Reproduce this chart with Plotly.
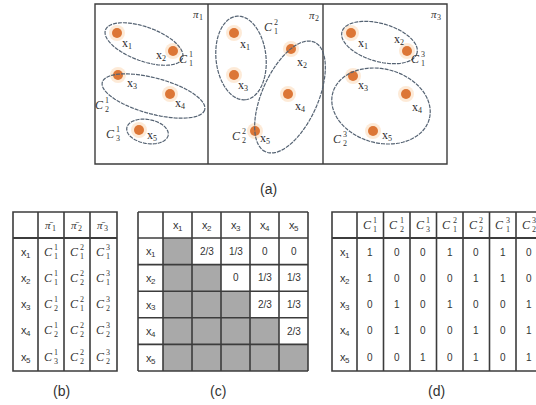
import numpy as np
import plotly.graph_objects as go

W, H = 536, 405

# ---- data -------------------------------------------------------------
objects = ["1", "2", "3", "4", "5"]            # x_1 ... x_5
partition_ids = [1, 2, 3]                       # pi_1 ... pi_3

# cluster label of each object in each partition
labels_pi1 = [1, 1, 2, 2, 3]
labels_pi2 = [1, 2, 1, 2, 2]
labels_pi3 = [1, 1, 2, 2, 2]

# object coordinates inside each partition panel
pi1_x = [117, 173, 118, 170, 139]
pi1_y = [33, 51, 75, 94, 130]
pi2_x = [234, 291, 234, 288, 255]
pi2_y = [33, 49, 75, 94, 131]
pi3_x = [351, 407, 353, 406, 373]
pi3_y = [33, 51, 76, 94, 131]

# co-association matrix (upper triangle shown)
coassoc = [
    ["", "2/3", "1/3", "0", "0"],
    ["", "", "0", "1/3", "1/3"],
    ["", "", "", "2/3", "1/3"],
    ["", "", "", "", "2/3"],
    ["", "", "", "", ""],
]

# binary membership table: columns are (cluster, partition)
member_cols = [(1, 1), (2, 1), (3, 1), (1, 2), (2, 2), (1, 3), (2, 3)]
membership = [
    [1, 0, 0, 1, 0, 1, 0],
    [1, 0, 0, 0, 1, 1, 0],
    [0, 1, 0, 1, 0, 0, 1],
    [0, 1, 0, 0, 1, 0, 1],
    [0, 0, 1, 0, 1, 0, 1],
]

# ---- styling / layout -------------------------------------------------
LINE = "#3c3c3c"
ELL = "#556373"
DOT = "#dc7636"
HALO = "rgba(248,190,130,0.32)"
SERIF = "Liberation Serif"
SANS = "Liberation Sans"

shapes = []
annotations = []


def text(x, y, s, size=11, family=SANS, color="#333", xanchor="center", yanchor="middle"):
    annotations.append(dict(x=x, y=y, xref="x", yref="y", text=s, showarrow=False,
                            font=dict(family=family, size=int(round(size)), color=color),
                            xanchor=xanchor, yanchor=yanchor))


def sub_label(x, y, base, sub, size=11, family=SANS, color="#333"):
    """Symbol with a subscript index, centred on (x, y)."""
    text(x - size * 0.17, y, base, size=size, family=family, color=color)
    text(x + size * 0.08 - 2, y + size * 0.30, str(sub), size=max(8, size * 0.68),
         family=family, color=color, xanchor="left")


def line(x0, y0, x1, y1, width=1.5, color=LINE):
    shapes.append(dict(type="line", x0=x0, y0=y0, x1=x1, y1=y1, xref="x", yref="y",
                       line=dict(color=color, width=width)))


def rect(x0, y0, x1, y1, fill, width=0):
    shapes.append(dict(type="rect", x0=x0, y0=y0, x1=x1, y1=y1, xref="x", yref="y",
                       fillcolor=fill, line=dict(width=width, color=LINE), layer="below"))


def c_label(x, y, sub, sup, size=12):
    text(x, y, "<i>C</i>", size=size, family=SERIF)
    text(x + size * 0.33, y - size * 0.36, str(sup), size=8, family=SERIF, xanchor="left")
    text(x + size * 0.33, y + size * 0.40, str(sub), size=8, family=SERIF, xanchor="left")


def ellipse(cx, cy, a, b, ang_deg):
    t = np.linspace(0, 2 * np.pi, 90)
    th = np.deg2rad(ang_deg)
    xs = cx + a * np.cos(t) * np.cos(th) - b * np.sin(t) * np.sin(th)
    ys = cy + a * np.cos(t) * np.sin(th) + b * np.sin(t) * np.cos(th)
    path = "M " + " L ".join(f"{px:.2f},{py:.2f}" for px, py in zip(xs, ys)) + " Z"
    shapes.append(dict(type="path", path=path, xref="x", yref="y",
                       line=dict(color=ELL, width=1.2, dash="4px,1px")))


fig = go.Figure()

# ---- (a) partitions -----------------------------------------------------
frame = (95, 4, 447, 164)
rect(frame[0], frame[1], frame[2], frame[3], "white", width=1.4)
line(208, frame[1], 208, frame[3], width=1.4)
line(323, frame[1], 323, frame[3], width=1.4)

panels = [
    dict(px=pi1_x, py=pi1_y, labels=labels_pi1, pid=1, pi_pos=(198, 14),
         offs=[(10, 10), (-12, 4), (14, 8), (10, 9), (13, 5)],
         ells=[(144, 44, 41, 17, 20), (153.5, 96, 53, 18, 15), (147.5, 131.5, 21, 12, 10)],
         cpos=[(183, 59), (99, 105), (110, 134)]),
    dict(px=pi2_x, py=pi2_y, labels=labels_pi2, pid=2, pi_pos=(314, 15),
         offs=[(11, 11), (11, 13), (9, 10), (12, 12), (10, 7)],
         ells=[(241, 58, 42, 25, 84), (290, 97, 60, 28, 114)],
         cpos=[(268, 27), (236, 136)]),
    dict(px=pi3_x, py=pi3_y, labels=labels_pi3, pid=3, pi_pos=(436, 14),
         offs=[(12, 10), (-8, -12), (10, 9), (11, 13), (14, 4)],
         ells=[(379.5, 42.5, 39, 19, 16), (381, 106, 50, 37, 15)],
         cpos=[(415, 59), (337, 139)]),
]

for p in panels:
    for e in p["ells"]:
        ellipse(*e)
    fig.add_trace(go.Scatter(x=p["px"], y=p["py"], mode="markers",
                             marker=dict(size=16, color=HALO, line=dict(width=0)),
                             hoverinfo="skip", showlegend=False))
    fig.add_trace(go.Scatter(x=p["px"], y=p["py"], mode="markers",
                             marker=dict(size=10, color=DOT, line=dict(width=0)),
                             hoverinfo="skip", showlegend=False))
    for i, obj in enumerate(objects):
        dx, dy = p["offs"][i]
        sub_label(p["px"][i] + dx, p["py"][i] + dy, "x", obj, size=12, family=SERIF,
                  color="#2a2a2a")
    for k, (cx, cy) in enumerate(p["cpos"]):
        c_label(cx, cy, k + 1, p["pid"], size=12)
    sub_label(p["pi_pos"][0], p["pi_pos"][1], "<i>π</i>", p["pid"], size=11, family=SERIF)

text(268, 189, "(a)", size=14, family=SANS, color="#333")

# ---- table geometry -----------------------------------------------------
top, head_bot, bot = 212, 238, 371
row_c = [252, 278, 304, 330, 357]

# ---- (b) cluster labels per partition -----------------------------------
bx = [13, 38, 64, 90, 117]
rect(bx[0], top, bx[-1], bot, "white", width=1.6)
for xv in bx[1:-1]:
    line(xv, top, xv, bot, width=1.6)
line(bx[0], head_bot, bx[-1], head_bot, width=2.2)
for j, pid in enumerate(partition_ids):
    cx = (bx[j + 1] + bx[j + 2]) / 2
    sub_label(cx, (top + head_bot) / 2, "<i>π\u0304</i>", pid, size=11, family=SERIF)
all_labels = [labels_pi1, labels_pi2, labels_pi3]
for i, obj in enumerate(objects):
    sub_label((bx[0] + bx[1]) / 2, row_c[i], "x", obj, size=11)
    for j, pid in enumerate(partition_ids):
        cx = (bx[j + 1] + bx[j + 2]) / 2 - 3
        c_label(cx, row_c[i], all_labels[j][i], pid, size=12)
text(61, 391, "(b)", size=14)

# ---- (c) co-association matrix ------------------------------------------
cx_edges = [138, 163, 192, 221, 250, 279, 308]
cy_edges = [top, head_bot, 264.6, 291.2, 317.8, 344.4, bot]
for i in range(5):
    for j in range(5):
        if j <= i:
            rect(cx_edges[j + 1], cy_edges[i + 1], cx_edges[j + 2], cy_edges[i + 2], "#a9a9a9")
for xv in cx_edges:
    line(xv, top, xv, bot, width=1.6)
for yv in cy_edges:
    line(cx_edges[0], yv, cx_edges[-1], yv, width=1.6)
for j, obj in enumerate(objects):
    sub_label((cx_edges[j + 1] + cx_edges[j + 2]) / 2, (top + head_bot) / 2, "x", obj, size=11)
for i, obj in enumerate(objects):
    yc = (cy_edges[i + 1] + cy_edges[i + 2]) / 2
    sub_label((cx_edges[0] + cx_edges[1]) / 2, yc, "x", obj, size=11)
    for j in range(5):
        if coassoc[i][j]:
            text((cx_edges[j + 1] + cx_edges[j + 2]) / 2, yc, coassoc[i][j], size=10)
text(218, 391, "(c)", size=14)

# ---- (d) binary membership table ----------------------------------------
dx_edges = [332, 357] + [357 + 26.5 * (k + 1) for k in range(len(member_cols))]
rect(dx_edges[0], top, dx_edges[-1], bot, "white", width=1.6)
for xv in dx_edges[1:-1]:
    line(xv, top, xv, bot, width=1.6)
line(dx_edges[0], head_bot, dx_edges[-1], head_bot, width=2.2)
for k, (cl, pid) in enumerate(member_cols):
    c_label((dx_edges[k + 1] + dx_edges[k + 2]) / 2 - 3, (top + head_bot) / 2, cl, pid, size=12)
for i, obj in enumerate(objects):
    sub_label((dx_edges[0] + dx_edges[1]) / 2, row_c[i], "x", obj, size=11)
    for k in range(len(member_cols)):
        text((dx_edges[k + 1] + dx_edges[k + 2]) / 2, row_c[i], str(membership[i][k]), size=10)
text(436, 391, "(d)", size=14)

fig.update_layout(
    width=W, height=H,
    margin=dict(l=0, r=0, t=0, b=0),
    paper_bgcolor="white", plot_bgcolor="white",
    xaxis=dict(range=[0, W], visible=False, fixedrange=True),
    yaxis=dict(range=[H, 0], visible=False, fixedrange=True),
    shapes=shapes, annotations=annotations, showlegend=False,
)
fig.write_html("out.html")
